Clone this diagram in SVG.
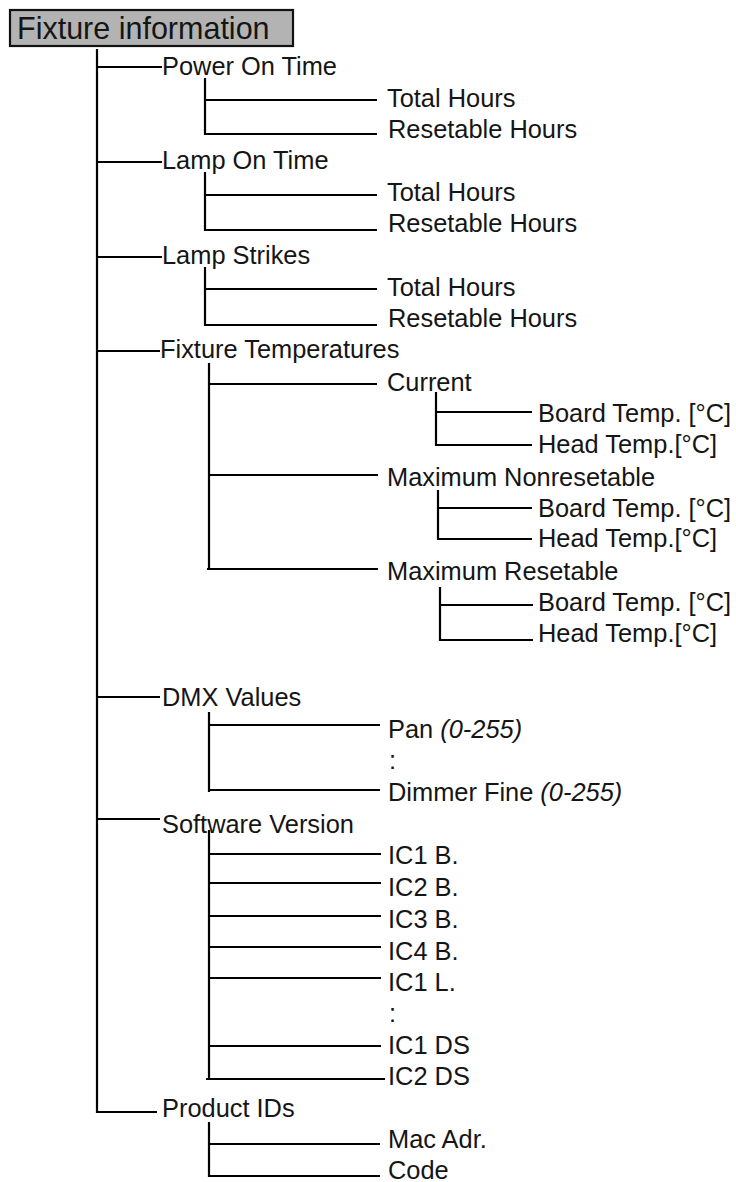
<svg xmlns="http://www.w3.org/2000/svg" width="736" height="1182" viewBox="0 0 736 1182">
<style>
.t{font-family:"Liberation Sans",Arial,Helvetica,sans-serif;font-size:25.4px;fill:#151515}
.ti{font-family:"Liberation Sans",Arial,Helvetica,sans-serif;font-size:30.5px;fill:#151515}
.i{font-style:italic}
.c line{stroke:#000;stroke-width:2.2;fill:none}
</style>
<rect width="736" height="1182" fill="#fff"/>
<g id="root">
<rect x="10" y="10" width="283" height="36" fill="#b3b3b3" stroke="#111" stroke-width="2.2"/>
<text class="ti" x="17" y="39">Fixture information</text>
</g>
<g class="c" id="connectors">
<line x1="97" y1="49" x2="97" y2="1113"/>
<line x1="96" y1="67" x2="162" y2="67"/>
<line x1="96" y1="162" x2="162" y2="162"/>
<line x1="96" y1="257" x2="162" y2="257"/>
<line x1="96" y1="351" x2="160" y2="351"/>
<line x1="96" y1="697" x2="160" y2="697"/>
<line x1="96" y1="819" x2="160" y2="819"/>
<line x1="96" y1="1112" x2="157" y2="1112"/>
<line x1="205" y1="78" x2="205" y2="135"/>
<line x1="204" y1="100" x2="377" y2="100"/>
<line x1="204" y1="134" x2="377" y2="134"/>
<line x1="205" y1="172" x2="205" y2="231"/>
<line x1="204" y1="195" x2="377" y2="195"/>
<line x1="204" y1="230" x2="377" y2="230"/>
<line x1="205" y1="267" x2="205" y2="326"/>
<line x1="204" y1="289" x2="377" y2="289"/>
<line x1="204" y1="325" x2="377" y2="325"/>
<line x1="209" y1="363" x2="209" y2="570"/>
<line x1="208" y1="384" x2="377" y2="384"/>
<line x1="208" y1="475" x2="378" y2="475"/>
<line x1="207" y1="569" x2="378" y2="569"/>
<line x1="436" y1="392" x2="436" y2="446"/>
<line x1="435" y1="412" x2="532" y2="412"/>
<line x1="435" y1="445" x2="532" y2="445"/>
<line x1="438" y1="490" x2="438" y2="540"/>
<line x1="437" y1="508" x2="532" y2="508"/>
<line x1="437" y1="539" x2="532" y2="539"/>
<line x1="440" y1="587" x2="440" y2="641"/>
<line x1="439" y1="605" x2="533" y2="605"/>
<line x1="439" y1="640" x2="533" y2="640"/>
<line x1="209" y1="712" x2="209" y2="792"/>
<line x1="208" y1="725" x2="380" y2="725"/>
<line x1="208" y1="790" x2="380" y2="790"/>
<line x1="209" y1="830" x2="209" y2="1080"/>
<line x1="208" y1="854" x2="381" y2="854"/>
<line x1="208" y1="883" x2="381" y2="883"/>
<line x1="208" y1="916" x2="381" y2="916"/>
<line x1="208" y1="947" x2="381" y2="947"/>
<line x1="208" y1="978" x2="381" y2="978"/>
<line x1="208" y1="1046" x2="381" y2="1046"/>
<line x1="206" y1="1079" x2="385" y2="1079"/>
<line x1="209" y1="1122" x2="209" y2="1177"/>
<line x1="208" y1="1144" x2="380" y2="1144"/>
<line x1="208" y1="1176" x2="380" y2="1176"/>
</g>
<g id="power-on-time"><text class="t" x="162" y="75">Power On Time</text></g>
<g id="power-total"><text class="t" x="387" y="107">Total Hours</text></g>
<g id="power-reset"><text class="t" x="388" y="138">Resetable Hours</text></g>
<g id="lamp-on-time"><text class="t" x="162" y="169">Lamp On Time</text></g>
<g id="lamp-total"><text class="t" x="387" y="201">Total Hours</text></g>
<g id="lamp-reset"><text class="t" x="388" y="232">Resetable Hours</text></g>
<g id="lamp-strikes"><text class="t" x="162" y="264">Lamp Strikes</text></g>
<g id="strikes-total"><text class="t" x="387" y="296">Total Hours</text></g>
<g id="strikes-reset"><text class="t" x="388" y="327">Resetable Hours</text></g>
<g id="fixture-temps"><text class="t" x="160" y="358">Fixture Temperatures</text></g>
<g id="current"><text class="t" x="387" y="391">Current</text></g>
<g id="current-board"><text class="t" x="538" y="422">Board Temp. [°C]</text></g>
<g id="current-head"><text class="t" x="538" y="453">Head Temp.[°C]</text></g>
<g id="max-nonreset"><text class="t" x="387" y="486">Maximum Nonresetable</text></g>
<g id="maxnon-board"><text class="t" x="538" y="517">Board Temp. [°C]</text></g>
<g id="maxnon-head"><text class="t" x="538" y="547">Head Temp.[°C]</text></g>
<g id="max-reset"><text class="t" x="387" y="580">Maximum Resetable</text></g>
<g id="maxres-board"><text class="t" x="538" y="611">Board Temp. [°C]</text></g>
<g id="maxres-head"><text class="t" x="538" y="642">Head Temp.[°C]</text></g>
<g id="dmx-values"><text class="t" x="162" y="706">DMX Values</text></g>
<g id="dmx-pan"><text class="t" x="388" y="738">Pan <tspan class="i">(0-255)</tspan></text></g>
<g id="dmx-dots"><text class="t" x="389" y="769">:</text></g>
<g id="dmx-dimmer"><text class="t" x="388" y="801">Dimmer Fine <tspan class="i">(0-255)</tspan></text></g>
<g id="software-version"><text class="t" x="162" y="833">Software Version</text></g>
<g id="ic1b"><text class="t" x="388" y="864">IC1 B.</text></g>
<g id="ic2b"><text class="t" x="388" y="896">IC2 B.</text></g>
<g id="ic3b"><text class="t" x="388" y="928">IC3 B.</text></g>
<g id="ic4b"><text class="t" x="388" y="960">IC4 B.</text></g>
<g id="ic1l"><text class="t" x="388" y="991">IC1 L.</text></g>
<g id="sw-dots"><text class="t" x="389" y="1022">:</text></g>
<g id="ic1ds"><text class="t" x="388" y="1054">IC1 DS</text></g>
<g id="ic2ds"><text class="t" x="388" y="1085">IC2 DS</text></g>
<g id="product-ids"><text class="t" x="162" y="1117">Product IDs</text></g>
<g id="mac-adr"><text class="t" x="388" y="1148">Mac Adr.</text></g>
<g id="code"><text class="t" x="388" y="1179">Code</text></g>
</svg>
